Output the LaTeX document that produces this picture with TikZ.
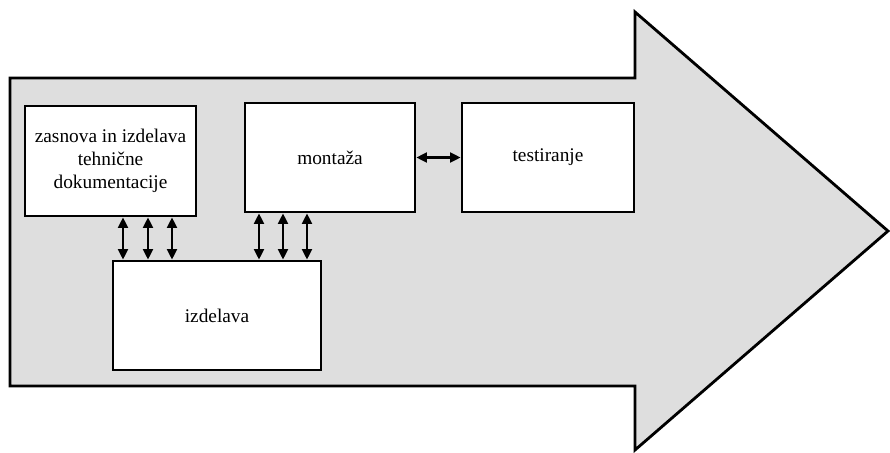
\documentclass[tikz,border=0pt]{standalone}
\usepackage{fontspec}
\setmainfont{Liberation Serif}
\usetikzlibrary{arrows.meta}

\tikzset{
  phase/.style={draw=black, line width=2.4pt, fill=white, rectangle,
    align=center, inner sep=0pt, font=\fontsize{16.5}{19.6}\selectfont},
  link/.style={line width=1.9pt, {Triangle[length=9pt,width=8.5pt]}-{Triangle[length=9pt,width=8.5pt]}}
}

\begin{document}
\begin{tikzpicture}[x=0.3mm, y=-0.3mm]
	\useasboundingbox (0,0) rectangle (890,452);
	% the large process arrow in the back
	\draw[line width=2.4pt, fill=black!13, line join=miter]
		(10,78) -- (635,78) -- (635,12) -- (888,231) -- (635,450) -- (635,386) -- (10,386) -- cycle;

	\node[phase, minimum width=51.3mm, minimum height=33mm] (zasnova) at (110.5,161)
		{zasnova in izdelava\\ tehnične\\ dokumentacije};
	\node[phase, minimum width=51mm, minimum height=32.7mm] (montaza) at (330,157.5) {montaža};
	\node[phase, minimum width=51.6mm, minimum height=32.7mm] (testiranje) at (548,157.5) {testiranje};
	\node[phase, minimum width=62.4mm, minimum height=32.7mm] (izdelava) at (217,315.5) {izdelava};

	\draw[link] (montaza.east) -- (testiranje.west);
	\foreach \x in {123,148,172}
		\draw[link] (zasnova.south -| \x,0) -- (izdelava.north -| \x,0);
	\foreach \x in {259,283,307}
		\draw[link] (montaza.south -| \x,0) -- (izdelava.north -| \x,0);

\end{tikzpicture}
\end{document}
